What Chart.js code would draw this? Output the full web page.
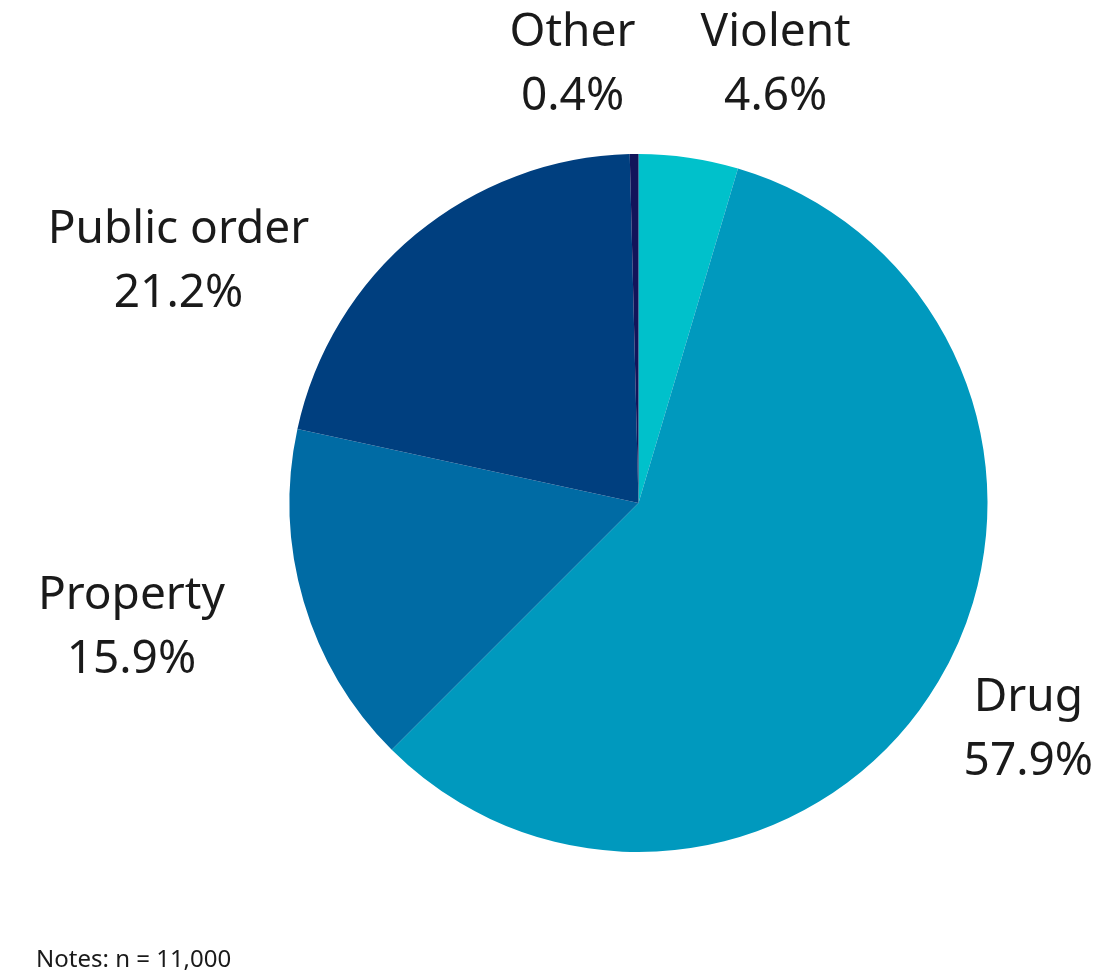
<!DOCTYPE html>
<html>
<head>
<meta charset="utf-8">
<script src="https://cdn.jsdelivr.net/npm/chart.js@4/dist/chart.umd.min.js"></script>
<style>
  html, body { margin: 0; padding: 0; background: #fff; }
  #wrap { width: 1115px; height: 973px; }
</style>
</head>
<body>
<div id="wrap"><canvas id="pieChart" width="1115" height="973"></canvas></div>
<script>
const offence_types = ['Violent', 'Drug', 'Property', 'Public order', 'Other'];
const offence_shares = [4.6, 57.9, 15.9, 21.2, 0.4];
const slice_colours = ['#00c1cb', '#0099be', '#006ba4', '#003f7f', '#12145a'];
const note_text = 'Notes: n = 11,000';

// where each label sits, relative to the pie centre, in units of radius
const label_offsets = [
    [0.393, -1.255],
    [1.117, 0.650],
    [-1.453, 0.358],
    [-1.318, -0.691],
    [-0.189, -1.255]
];

const fontFamily = '"Noto Sans", "Open Sans", sans-serif';

const outsideLabels = {
    id: 'outsideLabels',
    afterDraw(chart) {
        const ctx = chart.ctx;
        const arcs = chart.getDatasetMeta(0).data;
        ctx.save();
        ctx.fillStyle = '#1a1a1a';
        ctx.font = '46px ' + fontFamily;
        ctx.textAlign = 'center';
        ctx.textBaseline = 'middle';
        arcs.forEach(function (arc, i) {
            const r = arc.outerRadius;
            const x = arc.x + label_offsets[i][0] * r;
            const y = arc.y + label_offsets[i][1] * r;
            ctx.fillText(offence_types[i], x, y - 32);
            ctx.fillText(offence_shares[i].toFixed(1) + '%', x, y + 32);
        });
        // footnote
        ctx.font = '24px ' + fontFamily;
        ctx.textAlign = 'left';
        ctx.textBaseline = 'alphabetic';
        ctx.fillText(note_text, 36, 967);
        ctx.restore();
    }
};

var pie = document.getElementById('pieChart').getContext('2d');
var myChart = new Chart(pie, {
    type: 'pie',
    data: {
        labels: offence_types,
        datasets: [{
            data: offence_shares,
            backgroundColor: slice_colours,
            borderWidth: 0
        }]
    },
    options: {
        responsive: false,
        animation: false,
        layout: {
            padding: { top: 154, bottom: 121, left: 289, right: 127 }
        },
        plugins: {
            legend: { display: false },
            tooltip: { enabled: false }
        }
    },
    plugins: [outsideLabels]
});
</script>
</body>
</html>
